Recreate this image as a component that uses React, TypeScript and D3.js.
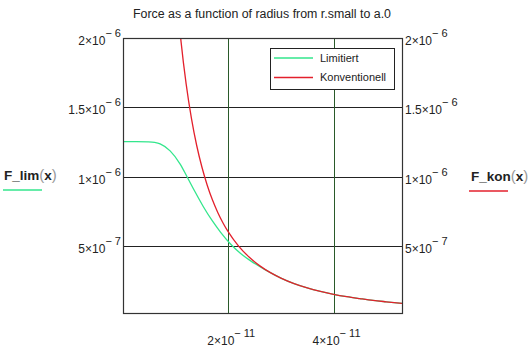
import * as d3 from 'd3';

// radius in units of 1e-11, force in units of 1e-6
const limR = [0, 0.25, 0.476, 0.6, 0.705, 0.895, 1.086, 1.219, 1.371, 1.524, 1.695, 1.848, 2.038, 2.229, 2.419, 2.705, 3.0, 3.25, 3.5, 3.75, 4.0, 4.25, 4.5, 4.75, 5.0, 5.3];
const limF = [1.252, 1.252, 1.25, 1.246, 1.236, 1.185, 1.09, 0.997, 0.888, 0.784, 0.681, 0.601, 0.515, 0.446, 0.393, 0.326, 0.267, 0.227, 0.196, 0.171, 0.15, 0.133, 0.119, 0.106, 0.096, 0.085];

const konR = [1.05, 1.1, 1.2, 1.3, 1.4, 1.5, 1.6, 1.7, 1.8, 1.9, 2.0, 2.2, 2.4, 2.6, 2.8, 3.0, 3.25, 3.5, 3.75, 4.0, 4.25, 4.5, 4.75, 5.0, 5.3];
const konF = [2.177, 1.983, 1.667, 1.42, 1.224, 1.067, 0.9375, 0.83, 0.741, 0.665, 0.6, 0.496, 0.417, 0.355, 0.306, 0.267, 0.227, 0.196, 0.171, 0.15, 0.133, 0.119, 0.106, 0.096, 0.085];

const xTicks = [2e-11, 4e-11];
const xTickLabels = [['2', '11'], ['4', '11']];
const yTicks = [2e-6, 1.5e-6, 1e-6, 5e-7];
const yTickLabels = [['2', '6'], ['1.5', '6'], ['1', '6'], ['5', '7']];

const legendNames = ['Limitiert', 'Konventionell'];
const GREEN = '#33e68c';
const RED = '#e3202c';
const FONT = '"Liberation Sans", Arial, sans-serif';

const W = 530, H = 350;
const left = 123, right = 402, top = 38, bottom = 313;

function SciLabel({ x, y, mant, exp, anchor }: { x: number; y: number; mant: string; exp: string; anchor: string }) {
  return (
    <text x={x} y={y} textAnchor={anchor} fontSize={12} fill="#222" fontFamily={FONT}>
      {mant}×10
      <tspan dy={-8} fontSize={11}>{'− ' + exp}</tspan>
    </text>
  );
}

export default function App() {
  const x = d3.scaleLinear().domain([0, 5.3e-11]).range([left, right]);
  const y = d3.scaleLinear().domain([1.5e-8, 2e-6]).range([bottom, top]);

  const line = d3.line<[number, number]>()
    .x(d => x(d[0] * 1e-11))
    .y(d => y(d[1] * 1e-6))
    .curve(d3.curveMonotoneX);

  const limPts = limR.map((r, i) => [r, limF[i]] as [number, number]);
  const konPts = konR.map((r, i) => [r, konF[i]] as [number, number]);

  return (
    <svg width={W} height={H} style={{ position: 'absolute', left: 0, top: 0, background: '#fff' }}>
      <defs>
        <clipPath id="plot">
          <rect x={left} y={top} width={right - left} height={bottom - top} />
        </clipPath>
      </defs>

      {/* title */}
      <text x={262} y={18} textAnchor="middle" fontSize={12} fontFamily={FONT} fill="#222" textLength={258} lengthAdjust="spacingAndGlyphs">
        Force as a function of radius from r.small to a.0
      </text>

      {/* grid */}
      {yTicks.slice(1).map(t => (
        <line key={'gy' + t} x1={left} x2={right} y1={Math.round(y(t)) + 0.5} y2={Math.round(y(t)) + 0.5} stroke="#222" strokeWidth={1} />
      ))}
      {xTicks.map(t => (
        <line key={'gx' + t} x1={Math.round(x(t)) + 0.5} x2={Math.round(x(t)) + 0.5} y1={top} y2={bottom} stroke="#2a5a2a" strokeWidth={1} />
      ))}

      {/* curves */}
      <g clipPath="url(#plot)" fill="none" strokeWidth={1.3}>
        <path d={line(limPts) || ''} stroke={GREEN} />
        <path d={line(konPts) || ''} stroke={RED} />
      </g>

      {/* frame */}
      <rect x={left + 0.5} y={top + 0.5} width={right - left} height={bottom - top} fill="none" stroke="#333" strokeWidth={1.2} />

      {/* y tick labels left and right */}
      {yTicks.map((t, i) => (
        <g key={'yl' + t}>
          <SciLabel x={121} y={y(t) + 7} mant={yTickLabels[i][0]} exp={yTickLabels[i][1]} anchor="end" />
          <SciLabel x={405} y={y(t) + 7} mant={yTickLabels[i][0]} exp={yTickLabels[i][1]} anchor="start" />
        </g>
      ))}

      {/* x tick labels */}
      {xTicks.map((t, i) => (
        <SciLabel key={'xl' + t} x={x(t) - 21} y={345} mant={xTickLabels[i][0]} exp={xTickLabels[i][1]} anchor="start" />
      ))}

      {/* axis titles */}
      <text x={4} y={180} fontSize={13.5} fontFamily={FONT} fill="#222">
        <tspan fontWeight="bold">F_lim</tspan>
        <tspan fill="#999" fontSize={15}>(</tspan>
        <tspan fontWeight="bold">x</tspan>
        <tspan fill="#999" fontSize={15}>)</tspan>
      </text>
      <line x1={3} x2={42} y1={190} y2={190} stroke={GREEN} strokeWidth={1.5} />
      <text x={471} y={181} fontSize={13.5} fontFamily={FONT} fill="#222">
        <tspan fontWeight="bold">F_kon</tspan>
        <tspan fill="#999" fontSize={15}>(</tspan>
        <tspan fontWeight="bold">x</tspan>
        <tspan fill="#999" fontSize={15}>)</tspan>
      </text>
      <line x1={469} x2={508} y1={191} y2={191} stroke={RED} strokeWidth={1.5} />

      {/* legend */}
      <rect x={270.5} y={48.5} width={124} height={41} fill="#fff" stroke="#222" strokeWidth={1} />
      {legendNames.map((n, i) => (
        <g key={n}>
          <line x1={274} x2={313} y1={58 + i * 19.5} y2={58 + i * 19.5} stroke={i === 0 ? GREEN : RED} strokeWidth={1.3} />
          <text x={320} y={61.5 + i * 19.5} fontSize={11} fontFamily={FONT} fill="#222">{n}</text>
        </g>
      ))}
    </svg>
  );
}
